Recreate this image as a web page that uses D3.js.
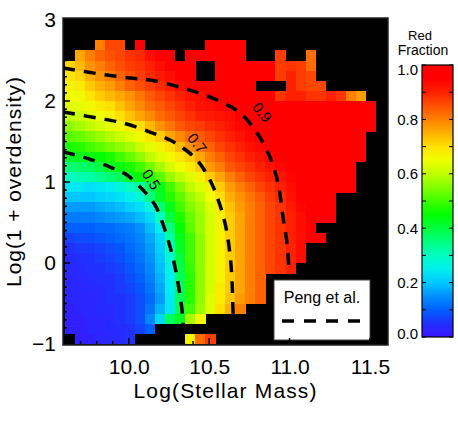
<!DOCTYPE html>
<html><head><meta charset="utf-8">
<script src="https://cdn.jsdelivr.net/npm/d3@7/dist/d3.min.js"></script>
<style>
body{margin:0;background:#fff}
svg{display:block}
text{font-family:"Liberation Sans",Arial,Helvetica,sans-serif;fill:#000}
</style>
</head><body>
<svg id="chart" width="458" height="423"></svg>
<script>
// ---------------- DATA ----------------
const massRange = [9.6, 11.6];      // 32 mass bins
const densRange = [3.0, -1.0];      // 32 density bins, top -> bottom
const N = null;                     // empty (black) bin
const redFraction = [
 [],
 [],
 [N,N,N,.80,.86,.86,N,.95,N,N,N,N,N,N,.97,.97,.97,.97],
 [N,.76,.80,.83,.85,.86,.88,.89,.93,.95,.95,N,.97,.97,.97,.97,.97,.97,N,N,N,.87,N,N,.82],
 [.71,.74,.78,.80,.83,.85,.87,.88,.90,.93,.95,.96,.97,N,N,.97,.97,.97,.97,.97,.97,.87,.88,.87,.82],
 [.69,.71,.75,.78,.80,.83,.85,.87,.89,.91,.93,.95,.96,N,N,.97,.97,.97,.97,.97,.97,.87,.90,.87,.86],
 [.67,.68,.72,.75,.77,.80,.83,.85,.87,.89,.91,.93,.94,.95,.96,.97,.97,.97,.97,N,N,N,.90,.87,.86,.86],
 [.65,.66,.69,.72,.74,.76,.78,.81,.84,.86,.88,.90,.92,.93,.95,.95,.96,.97,.97,.97,.97,.88,.90,.90,.88,.88,.90,.88,.80,.77],
 [.63,.64,.66,.68,.70,.73,.76,.79,.82,.84,.86,.88,.90,.92,.93,.94,.95,.97,.97,.97,.97,.97,.97,.97,.97,.97,.97,.97,.97,.97,.97],
 [.60,.61,.63,.65,.67,.70,.73,.76,.79,.82,.84,.86,.88,.90,.91,.92,.93,.95,.97,.97,.97,.97,.97,.97,.97,.97,.97,.97,.97,.97,.97],
 [.56,.58,.60,.62,.64,.66,.68,.70,.74,.78,.81,.84,.86,.87,.89,.90,.92,.94,.96,.97,.97,.97,.97,.97,.97,.97,.97,.97,.97,.97,.97],
 [.52,.53,.55,.57,.59,.61,.63,.66,.69,.72,.76,.79,.82,.84,.86,.88,.90,.92,.94,.95,.97,.97,.97,.97,.97,.97,.97,.97,.97,.97],
 [.47,.48,.50,.52,.54,.56,.58,.61,.64,.67,.70,.74,.78,.81,.83,.86,.88,.90,.92,.94,.95,.97,.97,.97,.97,.97,.97,.97,.97,.97],
 [.42,.43,.44,.45,.47,.50,.53,.56,.60,.63,.66,.69,.72,.76,.80,.83,.86,.88,.90,.92,.94,.95,.97,.97,.97,.97,.97,.97,.97,.97],
 [.36,.37,.38,.40,.42,.44,.47,.50,.54,.58,.62,.65,.68,.72,.77,.80,.84,.86,.88,.90,.92,.94,.95,.97,.97,.97,.97,.97,.97],
 [.30,.31,.32,.34,.36,.38,.42,.45,.48,.52,.57,.60,.63,.67,.72,.76,.80,.83,.86,.88,.90,.92,.94,.96,.97,.97,.97,.97,.97],
 [.24,.24,.23,.24,.25,.27,.30,.33,.37,.43,.50,.55,.60,.63,.67,.72,.77,.80,.83,.86,.88,.90,.93,.95,.97,.97,.97,.97,.97],
 [.20,.20,.20,.21,.22,.23,.25,.28,.35,.42,.48,.52,.57,.60,.65,.70,.75,.78,.81,.84,.87,.89,.92,.95,.97,.97,.97],
 [.16,.16,.16,.17,.18,.19,.21,.23,.27,.36,.43,.50,.55,.58,.63,.68,.73,.77,.80,.83,.86,.88,.91,.94,.96,.97,.97],
 [.13,.13,.13,.14,.15,.16,.17,.19,.22,.30,.40,.47,.53,.57,.62,.67,.72,.76,.80,.83,.86,.88,.90,.93,.95,.97,.97],
 [.10,.10,.10,.11,.11,.12,.13,.15,.19,.25,.35,.45,.52,.57,.62,.67,.72,.76,.80,.83,.86,.88,.90,.93,.95],
 [.07,.08,.08,.09,.10,.11,.12,.14,.17,.22,.32,.43,.50,.56,.62,.67,.72,.76,.80,.83,.86,.88,.90,.93,.95,.96],
 [.05,.06,.06,.07,.08,.09,.11,.13,.16,.21,.30,.42,.50,.56,.62,.67,.72,.76,.80,.83,.86,.88,.90,.93],
 [.04,.05,.05,.06,.07,.08,.10,.12,.15,.20,.28,.40,.50,.56,.62,.67,.72,.76,.80,.83,.86,.88,.90,.93],
 [.04,.04,.05,.05,.06,.07,.09,.11,.14,.19,.26,.39,.49,.56,.62,.67,.72,.76,.80,.83,.86,.88,.90],
 [.03,.04,.04,.05,.05,.06,.08,.10,.13,.18,.25,.38,.48,.56,.62,.67,.72,.76,.80,.83],
 [.03,.03,.04,.04,.05,.06,.07,.09,.12,.17,.25,.38,.48,.56,.62,.68,.72,.76,.80,.83],
 [.03,.03,.03,.04,.05,.05,.06,.08,.11,.16,.24,.38,.48,.56,.63,.68,.73,.77,.80,.83],
 [.02,.03,.03,.04,.04,.05,.06,.08,.12,.18,.24,.38,.50,.57,.63,.70,.75,.80],
 [.02,.02,.03,.03,.04,.05,.06,.08,.14,.22,.38,.42,.58,.66],
 [.02,.02,.03,.03,.04,.04,.05,.07,.10],
 [N,.02,.02,.03,.03,.04,.05,N,N,N,N,N,.67,.82,.87]
];
const xTicks = [10.0, 10.5, 11.0, 11.5];
const yTicks = [-1, 0, 1, 2, 3];
const cbTicks = [0.0, 0.2, 0.4, 0.6, 0.8, 1.0];
// colour table
const cStops  = [0.00,0.05,0.10,0.15,0.20,0.25,0.30,0.35,0.40,0.45,0.50,0.55,0.60,0.65,0.70,0.75,0.80,0.85,0.90,0.95,1.00];
const cColors = ["#3c14ff","#2030ff","#0060ff","#0090ff","#00c8ff","#00f0f0","#00ffc0","#00ff80","#00ff40","#00ff00","#40ff00","#80ff00","#c0ff00","#f0ff00","#ffe000","#ffb000","#ff8000","#ff5000","#ff2000","#ff0000","#ff0000"];
// Peng et al. contours [log M, log(1+delta)]
const pengLevels = ["0.5", "0.7", "0.9"];
const peng05 = [[9.591,1.370],[9.715,1.309],[9.883,1.185],[9.989,1.086],[10.088,0.901],[10.163,0.716],[10.225,0.407],[10.275,0.062],[10.306,-0.247],[10.331,-0.580],[10.343,-1.012]];
const peng07 = [[9.591,1.864],[9.802,1.790],[9.964,1.728],[10.132,1.617],[10.256,1.519],[10.337,1.420],[10.424,1.272],[10.505,1.025],[10.567,0.716],[10.605,0.432],[10.630,0.099],[10.642,-0.210],[10.648,-0.580],[10.654,-1.012]];
const peng09 = [[9.591,2.407],[9.821,2.333],[10.007,2.284],[10.132,2.259],[10.337,2.160],[10.549,2.012],[10.692,1.852],[10.798,1.605],[10.878,1.309],[10.928,0.988],[10.959,0.568],[10.984,0.247],[10.996,-0.086],[11.003,-0.457],[11.009,-1.012]];
// label anchor points on the contours
const pengLabelPos = [[10.14,1.03],[10.425,1.48],[10.83,1.86]];
const pengLabelAngle = [58, 52, 50];

// ---------------- DRAW ----------------
const svg = d3.select("#chart");
const x = d3.scaleLinear().domain(massRange).range([64.5, 386]);
const y = d3.scaleLinear().domain([-1, 3]).range([344, 20]);
const color = d3.scaleLinear().domain(cStops).range(cColors).clamp(true);
const frame = {l:63, r:388, t:18, b:345};

const defs = svg.append("defs");
defs.append("clipPath").attr("id","plotclip").append("rect")
  .attr("x",frame.l).attr("y",frame.t).attr("width",frame.r-frame.l).attr("height",frame.b-frame.t);

// background
svg.append("rect").attr("x",frame.l).attr("y",frame.t).attr("width",frame.r-frame.l).attr("height",frame.b-frame.t).attr("fill","#000");

const nx = 32, ny = 32;
const dm = (massRange[1]-massRange[0])/nx, dd = (densRange[0]-densRange[1])/ny;
const cells = [];
redFraction.forEach((row,j)=>row.forEach((v,i)=>{ if(v!==null && v!==undefined) cells.push({i,j,v}); }));
svg.append("g").attr("clip-path","url(#plotclip)")
 .selectAll("rect").data(cells).join("rect")
  .attr("x",d=>x(massRange[0]+d.i*dm))
  .attr("y",d=>y(densRange[0]-d.j*dd))
  .attr("width",d=>x(massRange[0]+(d.i+1)*dm)-x(massRange[0]+d.i*dm)+0.4)
  .attr("height",d=>y(densRange[0]-(d.j+1)*dd)-y(densRange[0]-d.j*dd)+0.4)
  .attr("fill",d=>color(d.v))
  .attr("shape-rendering","crispEdges");

// contour mask (gaps for labels)
const mask = defs.append("mask").attr("id","lblmask");
mask.append("rect").attr("x",0).attr("y",0).attr("width",458).attr("height",423).attr("fill","#fff");
pengLabelPos.forEach((p,k)=>{
  mask.append("rect").attr("x",-13).attr("y",-7).attr("width",26).attr("height",14).attr("fill","#000")
    .attr("transform",`translate(${x(p[0])},${y(p[1])}) rotate(${pengLabelAngle[k]})`);
});
const line = d3.line().x(d=>x(d[0])).y(d=>y(d[1])).curve(d3.curveCatmullRom.alpha(0.5));
const cg = svg.append("g").attr("clip-path","url(#plotclip)").append("g").attr("mask","url(#lblmask)");
[peng05,peng07,peng09].forEach(c=>{
  cg.append("path").attr("d",line(c)).attr("fill","none").attr("stroke","#000")
    .attr("stroke-width",3.5).attr("stroke-dasharray","12,9");
});
pengLabelPos.forEach((p,k)=>{
  svg.append("text").attr("transform",`translate(${x(p[0])},${y(p[1])}) rotate(${pengLabelAngle[k]})`)
    .attr("text-anchor","middle").attr("dy","0.35em").attr("font-size",15).text(pengLevels[k]);
});

// legend
svg.append("rect").attr("x",274).attr("y",280).attr("width",96).attr("height",60)
  .attr("fill","#fff").attr("stroke","#444").attr("stroke-width",1);
svg.append("text").attr("x",322).attr("y",303).attr("text-anchor","middle").attr("font-size",16).text("Peng et al.");
svg.append("line").attr("x1",282).attr("x2",362).attr("y1",321).attr("y2",321)
  .attr("stroke","#000").attr("stroke-width",3.5).attr("stroke-dasharray","12,10");

// axes
const xMinor = d3.range(9.6, 11.61, 0.1).map(v=>+v.toFixed(2));
const yMinor = d3.range(-1, 3.01, 0.1).map(v=>+v.toFixed(2));
const tg = svg.append("g");
xMinor.forEach(v=>{
  const major = xTicks.some(t=>Math.abs(t-v)<1e-6);
  tg.append("line").attr("x1",x(v)).attr("x2",x(v)).attr("y1",frame.b).attr("y2",frame.b-(major?7:4)).attr("stroke","#000").attr("stroke-width",1.5);
});
yMinor.forEach(v=>{
  const major = yTicks.some(t=>Math.abs(t-v)<1e-6);
  tg.append("line").attr("x1",frame.l).attr("x2",frame.l+(major?7:4)).attr("y1",y(v)).attr("y2",y(v)).attr("stroke","#000").attr("stroke-width",1.5);
});
svg.append("rect").attr("x",frame.l).attr("y",frame.t).attr("width",frame.r-frame.l).attr("height",frame.b-frame.t)
  .attr("fill","none").attr("stroke","#222").attr("stroke-width",1.5);

const xAxis = svg.append("g").attr("transform",`translate(0,${frame.b})`)
  .call(d3.axisBottom(x).tickValues(xTicks).tickFormat(d3.format(".1f")).tickSize(0).tickPadding(14));
xAxis.select(".domain").remove();
xAxis.selectAll("text").attr("font-size",21).attr("font-family",null);
const yAxis = svg.append("g").attr("transform",`translate(${frame.l},0)`)
  .call(d3.axisLeft(y).tickValues(yTicks).tickFormat(d3.format("d")).tickSize(0).tickPadding(7));
yAxis.select(".domain").remove();
yAxis.selectAll("text").attr("font-size",21).attr("font-family",null);

svg.append("text").attr("x",225).attr("y",398).attr("text-anchor","middle").attr("font-size",21)
  .attr("textLength",183).attr("lengthAdjust","spacing").text("Log(Stellar Mass)");
svg.append("text").attr("transform","translate(21,182) rotate(-90)").attr("text-anchor","middle").attr("font-size",21)
  .attr("textLength",210).attr("lengthAdjust","spacing").text("Log(1 + overdensity)");

// colour bar
const cb = {l:422, r:453, t:65, b:337};
const cy = d3.scaleLinear().domain([0,1]).range([cb.b, cb.t]);
const grad = defs.append("linearGradient").attr("id","cbgrad").attr("x1",0).attr("y1",1).attr("x2",0).attr("y2",0);
cStops.forEach((s,k)=>grad.append("stop").attr("offset",s).attr("stop-color",cColors[k]));
svg.append("rect").attr("x",cb.l).attr("y",cb.t).attr("width",cb.r-cb.l).attr("height",cb.b-cb.t).attr("fill","url(#cbgrad)");
d3.range(0,1.001,0.1).forEach(v=>{
  const yy = cy(v);
  svg.append("line").attr("x1",cb.l).attr("x2",cb.l+4).attr("y1",yy).attr("y2",yy).attr("stroke","#000");
  svg.append("line").attr("x1",cb.r-4).attr("x2",cb.r).attr("y1",yy).attr("y2",yy).attr("stroke","#000");
});
svg.append("rect").attr("x",cb.l).attr("y",cb.t).attr("width",cb.r-cb.l).attr("height",cb.b-cb.t).attr("fill","none").attr("stroke","#000").attr("stroke-width",1.2);
const cbAxis = svg.append("g").attr("transform",`translate(${cb.l},0)`)
  .call(d3.axisLeft(cy).tickValues(cbTicks).tickFormat(d3.format(".1f")).tickSize(0).tickPadding(4));
cbAxis.select(".domain").remove();
cbAxis.selectAll("text").attr("font-size",15).attr("font-family",null)
  .attr("dy",d=> d===1 ? "0.6em" : (d===0 ? "0.1em" : "0.32em"));
svg.append("text").attr("x",420).attr("y",40).attr("text-anchor","middle").attr("font-size",13).text("Red");
svg.append("text").attr("x",423).attr("y",55).attr("text-anchor","middle").attr("font-size",14).text("Fraction");
</script>
</body></html>
